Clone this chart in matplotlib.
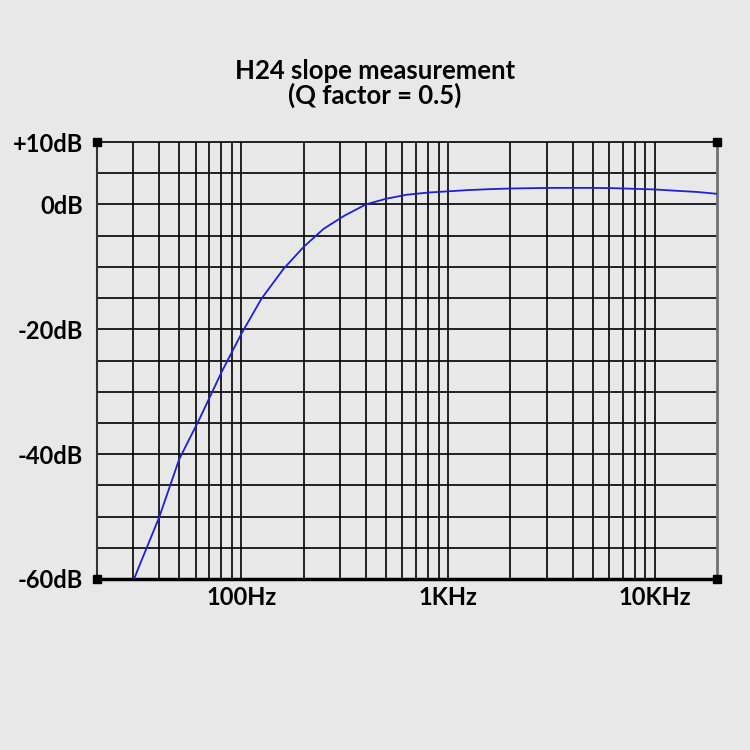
import numpy as np
import matplotlib
matplotlib.use("Agg")
import matplotlib.pyplot as plt

# =====================================================
# DATA (1/3 octave points)
# =====================================================
freq = [25, 31.5, 40, 50, 63, 80, 100, 125, 160, 200, 250, 315, 400, 500,
        630, 800, 1000, 1250, 1600, 2000, 2500, 3150, 4000, 5000, 6300,
        8000, 10000, 12500, 16000, 20000]
level_db = [-67.0, -58.5, -50.1, -40.8, -34.2, -26.9, -20.7, -15.1, -10.3,
            -6.8, -3.9, -1.8, 0.0, 0.9, 1.55, 1.9, 2.1, 2.3, 2.45, 2.55,
            2.6, 2.65, 2.65, 2.65, 2.6, 2.5, 2.4, 2.2, 2.0, 1.7]

major_freq = [100, 1000, 10000]
major_labels = ["100Hz", "1KHz", "10KHz"]
minor_freq = [30, 40, 50, 60, 70, 80, 90,
              200, 300, 400, 500, 600, 700, 800, 900,
              2000, 3000, 4000, 5000, 6000, 7000, 8000, 9000]

db_ticks = [10, 0, -20, -40, -60]
db_labels = ["+10dB", "0dB", "-20dB", "-40dB", "-60dB"]
db_grid = np.arange(-55, 10, 5)

title = "H24 slope measurement\n(Q factor = 0.5)"

# =====================================================
# STYLE
# =====================================================
bg = "#e8e8e8"
plt.rcParams["font.family"] = ["Lato", "DejaVu Sans"]

fig = plt.figure(figsize=(7.5, 7.5), dpi=100, facecolor=bg)
ax = fig.add_axes([97 / 750, 171 / 750, 620 / 750, 437 / 750], facecolor=bg)

ax.set_xscale("log")
ax.set_xlim(20, 20000)
ax.set_ylim(-60, 10)

# grid
for f in minor_freq + major_freq:
    ax.axvline(f, color="black", linewidth=1.2, zorder=1)
for d in db_grid:
    ax.axhline(d, color="black", linewidth=1.2, zorder=1)

# curve
ax.plot(freq, level_db, color="#1f1fd8", linewidth=1.3, zorder=3)

# ticks
ax.set_xticks(major_freq)
ax.set_xticklabels(major_labels)
ax.xaxis.set_minor_locator(matplotlib.ticker.NullLocator())
ax.set_yticks(db_ticks)
ax.set_yticklabels(db_labels)
ax.tick_params(axis="both", length=0, labelsize=17, colors="black")
ax.tick_params(axis="x", pad=5)
ax.tick_params(axis="y", pad=10)
for lbl in ax.get_xticklabels() + ax.get_yticklabels():
    lbl.set_fontweight("bold")

# spines
ax.spines["top"].set_linewidth(1.2)
ax.spines["left"].set_linewidth(1.5)
ax.spines["left"].set_color("#333333")
ax.spines["bottom"].set_linewidth(2.5)
ax.spines["right"].set_linewidth(2.0)
ax.spines["right"].set_color("#707070")

# corner squares
ax.plot([0, 0, 1, 1], [0, 1, 0, 1], "s", color="black", markersize=6,
        transform=ax.transAxes, clip_on=False, zorder=5)

fig.text(0.5, 0.889, title, ha="center", va="center", fontsize=18.5,
         fontweight="bold", linespacing=1.0)

fig.savefig("out.png", dpi=100, facecolor=bg)
